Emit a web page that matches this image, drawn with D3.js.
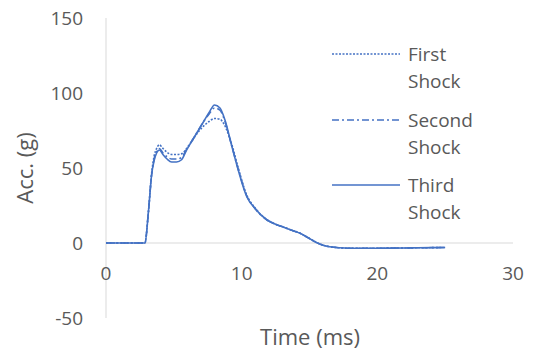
<!DOCTYPE html>
<html>
<head>
<meta charset="utf-8">
<script src="https://cdn.jsdelivr.net/npm/d3@7/dist/d3.min.js"></script>
<style>
  body { margin: 0; background: #fff; }
  text { font-family: "Open Sans", "Noto Sans", sans-serif; fill: #595959; }
</style>
</head>
<body>
<div id="chart"></div>
<script>
// time samples (ms), shared by the three shocks
const timeMs = [0, 1, 2, 2.87, 3.12, 3.37, 3.55, 3.73, 3.93, 4.2, 4.5, 4.84, 5.2, 5.57, 5.94, 6.4, 6.8, 7.2, 7.6, 8.0,
                8.4, 8.77, 9.26, 9.75, 10.37, 10.98, 11.85, 12.5, 13.1, 13.7, 14.3, 14.9, 15.5, 16.0, 16.5, 17.2,
                18, 19, 20, 21, 22, 23, 24, 25];

const firstShock  = [0, 0, 0, 0, 20, 47, 58, 63, 65.5, 63, 60.5, 59, 59, 59.5, 63, 69, 74, 78, 81, 83,
                     82.5, 78, 66, 50, 32, 23.5, 15.5, 12.5, 10.5, 8.5, 6.5, 3.5, 0.5, -1.5, -2.5, -3.2,
                     -3.5, -3.5, -3.5, -3.4, -3.3, -3.2, -3.1, -3];
const secondShock = [0, 0, 0, 0, 20, 46, 56, 61, 63, 60, 57.5, 56, 56, 57, 62.5, 69, 75, 81, 86, 90,
                     88.5, 81, 65, 49, 31.5, 23, 15.5, 12.5, 10.5, 8.5, 6.5, 3.5, 0.3, -1.5, -2.5, -3.2,
                     -3.5, -3.5, -3.5, -3.4, -3.3, -3.2, -3.1, -3];
const thirdShock  = [0, 0, 0, 0, 20, 46, 55, 60, 62, 59, 56, 54, 54, 55.5, 62, 69, 75, 81, 87, 92,
                     90, 82, 65, 48.5, 31, 23, 15.5, 12.5, 10.5, 8.5, 6.5, 3.5, 0.3, -1.5, -2.5, -3.2,
                     -3.5, -3.5, -3.5, -3.4, -3.3, -3.2, -3.1, -3];

const seriesNames = ["First Shock", "Second Shock", "Third Shock"];
const xTicks = [0, 10, 20, 30];
const yTicks = [-50, 0, 50, 100, 150];

const width = 536, height = 353;
const blue = "#4472c4";
const dashes = ["2,1.5", "7,3,2,3", null];

const svg = d3.select("#chart").append("svg")
              .attr("width", width)
              .attr("height", height);

const x = d3.scaleLinear().domain([0, 30]).range([106, 513]);
const y = d3.scaleLinear().domain([-50, 150]).range([318, 18]);

// axis lines (Excel style: no tick marks, light grey)
svg.append("line")
   .attr("x1", x(0)).attr("x2", x(0))
   .attr("y1", y(150)).attr("y2", y(-50))
   .attr("stroke", "#d9d9d9");
svg.append("line")
   .attr("x1", x(0)).attr("x2", x(30))
   .attr("y1", y(0)).attr("y2", y(0))
   .attr("stroke", "#d9d9d9");

// tick labels
svg.selectAll(".ytick")
   .data(yTicks)
   .enter().append("text")
   .attr("x", 83)
   .attr("y", d => y(d))
   .attr("dy", "0.35em")
   .attr("text-anchor", "end")
   .style("font-size", "19px")
   .text(d => d);

svg.selectAll(".xtick")
   .data(xTicks)
   .enter().append("text")
   .attr("x", d => x(d))
   .attr("y", 273)
   .attr("dy", "0.35em")
   .attr("text-anchor", "middle")
   .style("font-size", "19px")
   .text(d => d);

// series
const allSeries = [firstShock, secondShock, thirdShock];
const line = d3.line()
               .x((d, i) => x(timeMs[i]))
               .y(d => y(d))
               .curve(d3.curveMonotoneX);

svg.selectAll(".series")
   .data(allSeries)
   .enter().append("path")
   .attr("d", d => line(d))
   .attr("fill", "none")
   .attr("stroke", blue)
   .attr("stroke-width", 1.6)
   .attr("stroke-dasharray", (d, i) => dashes[i]);

// legend
const legendY = [54, 120, 185];
const legend = svg.selectAll(".legend")
                  .data(seriesNames)
                  .enter().append("g")
                  .attr("transform", (d, i) => "translate(0," + legendY[i] + ")");

legend.append("line")
      .attr("x1", 332).attr("x2", 400)
      .attr("stroke", blue)
      .attr("stroke-width", 1.6)
      .attr("stroke-dasharray", (d, i) => dashes[i]);

const legendText = legend.append("text")
                         .attr("x", 408)
                         .style("font-size", "19px");
legendText.append("tspan")
          .attr("x", 408).attr("dy", "0.35em")
          .text(d => d.split(" ")[0]);
legendText.append("tspan")
          .attr("x", 408).attr("dy", 27)
          .text(d => d.split(" ")[1]);

// axis titles
svg.append("text")
   .attr("x", 310)
   .attr("y", 337)
   .attr("dy", "0.35em")
   .attr("text-anchor", "middle")
   .style("font-size", "22px")
   .text("Time (ms)");

svg.append("text")
   .attr("transform", "translate(25,168) rotate(-90)")
   .attr("dy", "0.35em")
   .attr("text-anchor", "middle")
   .style("font-size", "22px")
   .text("Acc. (g)");
</script>
</body>
</html>
